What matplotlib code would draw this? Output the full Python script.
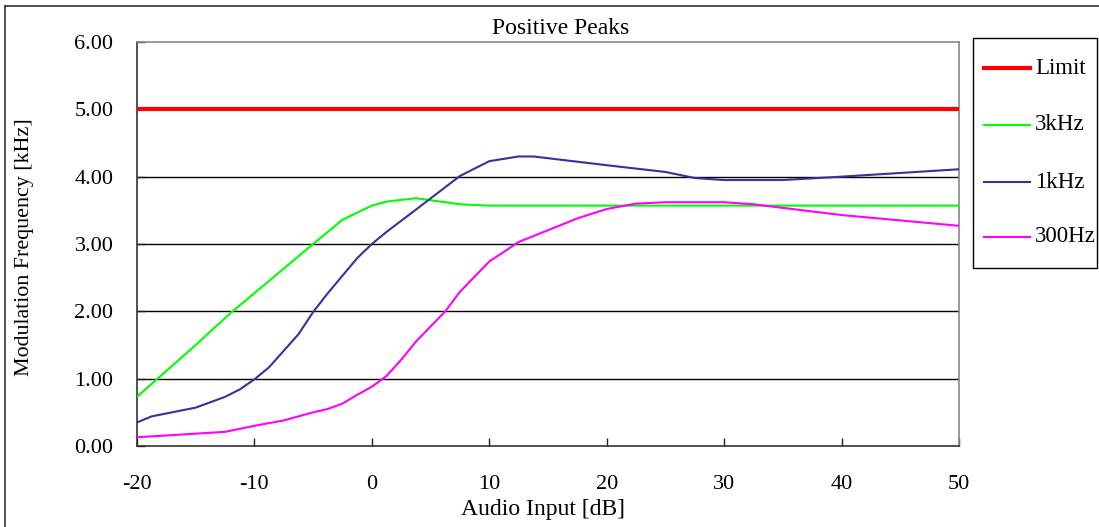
import matplotlib
matplotlib.use("Agg")
import matplotlib.pyplot as plt
from matplotlib.lines import Line2D
from matplotlib.patches import Rectangle

# ---- data ----
limit_x = [-20, 50]
limit_y = [5.0, 5.0]

khz3_x = [-20, -15, -12, -10, -5, -3.75, -2.5, 0, 1.25, 3.75, 7.5, 10, 20, 30, 40, 50]
khz3_y = [0.73, 1.50, 1.98, 2.27, 3.00, 3.18, 3.36, 3.57, 3.63, 3.68, 3.59, 3.57, 3.57, 3.57, 3.57, 3.57]

khz1_x = [-20, -18.75, -15, -12.5, -11.25, -10, -8.75, -6.25, -5, -3.75, -1.25, 0, 1.25,
          3.75, 7.5, 10, 12.5, 13.75, 20, 25, 27.5, 30, 35, 40, 50]
khz1_y = [0.35, 0.44, 0.57, 0.73, 0.84, 0.99, 1.17, 1.66, 1.99, 2.27, 2.79, 3.00, 3.18,
          3.51, 4.01, 4.23, 4.30, 4.30, 4.17, 4.07, 3.98, 3.95, 3.95, 4.00, 4.11]

hz300_x = [-20, -12.5, -10, -7.5, -5, -3.75, -2.5, -1.25, 0, 1.25, 2.5, 3.75, 6.25, 7.5, 10,
           12.5, 17.5, 20, 22.5, 25, 30, 32.5, 40, 50]
hz300_y = [0.13, 0.21, 0.30, 0.38, 0.50, 0.55, 0.63, 0.76, 0.88, 1.04, 1.28, 1.55, 2.00, 2.29, 2.74,
           3.03, 3.38, 3.52, 3.60, 3.62, 3.62, 3.59, 3.43, 3.27]

series_labels = ['Limit', '3kHz', '1kHz', '300Hz']
series_colors = ['#FF0000', '#00FF00', '#333399', '#FF00FF']
series_widths = [3.0, 1.5, 1.5, 1.5]

x_ticks = [-20, -10, 0, 10, 20, 30, 40, 50]
y_ticks = [0, 1, 2, 3, 4, 5, 6]

plt.rcParams['font.family'] = ['Liberation Serif', 'DejaVu Serif']

W, H = 1099, 527
fig = plt.figure(figsize=(W / 100, H / 100), dpi=100)
ax = fig.add_axes([137 / W, 1 - 446 / H, (959 - 137) / W, (446 - 42) / H])

for yv in y_ticks[1:-1]:
    ax.axhline(yv, color='black', lw=1.0, zorder=1)

data = [(limit_x, limit_y), (khz3_x, khz3_y), (khz1_x, khz1_y), (hz300_x, hz300_y)]
for (xs, ys), lab, col, lw in zip(data, series_labels, series_colors, series_widths):
    ax.plot(xs, ys, color=col, lw=lw, label=lab, zorder=3, solid_capstyle='butt')

ax.set_xlim(-20, 50)
ax.set_ylim(0, 6)
ax.set_xticks(x_ticks)
ax.set_xticklabels([str(v) for v in x_ticks])
ax.set_yticks(y_ticks)
ax.set_yticklabels([f"{v:.2f}" for v in y_ticks])
ax.tick_params(axis='both', direction='in', length=6, width=1, colors='#222222',
               labelsize=16, labelcolor='black')
ax.tick_params(axis='x', pad=21)
ax.tick_params(axis='y', pad=17)

for s in ['left', 'bottom']:
    ax.spines[s].set_color('#333333')
    ax.spines[s].set_linewidth(1.2)
for s in ['top', 'right']:
    ax.spines[s].set_color('#888888')
    ax.spines[s].set_linewidth(1.2)

fig.text(561 / W, 1 - 29 / H, 'Positive Peaks', ha='center', va='center', fontsize=17)
fig.text(543 / W, 1 - 510 / H, 'Audio Input [dB]', ha='center', va='center', fontsize=17)
fig.text(25 / W, 1 - 247 / H, 'Modulation Frequency [kHz]', ha='center', va='center',
         rotation=90, fontsize=15.8)

# legend (drawn manually to match fixed box)
fig.add_artist(Rectangle((973 / W, 1 - 268 / H), (1097 - 973) / W, (268 - 38) / H,
                         transform=fig.transFigure, fill=False, edgecolor='black', lw=1.0))
leg_y = [68, 125, 182, 237]
for yy, lab, col, lw in zip(leg_y, series_labels, series_colors, series_widths):
    fig.add_artist(Line2D([984 / W, 1030 / W], [1 - yy / H, 1 - yy / H],
                          transform=fig.transFigure, color=col, lw=lw))
    fig.text(1035 / W, 1 - yy / H, lab, ha='left', va='center', fontsize=16.5)

# outer border (left & top visible)
fig.add_artist(Line2D([5 / W, 5 / W], [0, 1 - 6 / H], transform=fig.transFigure,
                      color='#333333', lw=1.2))
fig.add_artist(Line2D([5 / W, 1], [1 - 6 / H, 1 - 6 / H], transform=fig.transFigure,
                      color='#333333', lw=1.2))

fig.savefig('out.png', dpi=100)
